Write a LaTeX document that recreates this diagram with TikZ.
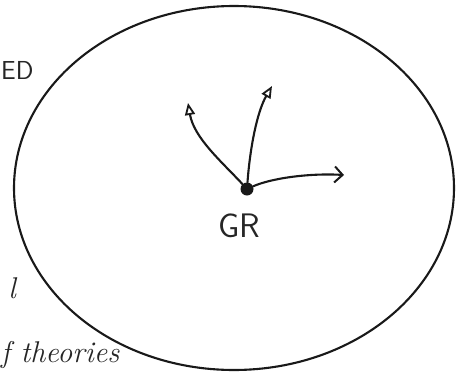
\documentclass[tikz,border=0pt]{standalone}
\usetikzlibrary{arrows.meta,shapes.geometric}
\begin{document}
\begin{tikzpicture}[x=1pt,y=-1pt,
  ink/.style={draw=black!90, line width=2.1pt, line cap=round},
  hand/.style={text=black!85, font=\sffamily\fontsize{34}{34}\selectfont, inner sep=0pt},
  scrawl/.style={text=black!85, font=\itshape\fontsize{30}{30}\selectfont, inner sep=0pt},
  tri/.style={-{Triangle[open,length=12pt,width=10pt,line width=1.8pt]}},
  barb/.style={-{Straight Barb[length=8pt,width=16pt,line width=2pt]}}]
\useasboundingbox (0,0) rectangle (456,378);
\clip (0,0) rectangle (456,378);
\fill[white] (0,0) rectangle (456,378);
% the large region
\node[ink, ellipse, minimum width=440pt, minimum height=364pt, inner sep=0pt] (space) at (234,188) {};
% GR point
\node[circle, fill=black!90, inner sep=0pt, minimum size=13pt] (gr) at (247,189) {};
\node[hand] (grlabel) at (239,226) {GR};
% arrow ends
\coordinate (t1) at (188,103);
\coordinate (t2) at (272,86);
\coordinate (t3) at (344,175);
\draw[ink, tri] (gr) .. controls (222,162) and (194,138) .. (t1);
\draw[ink, tri] (gr) .. controls (250,148) and (257,112) .. (t2);
\draw[ink, barb] (gr) .. controls (272,178) and (310,173) .. (t3);
% text fragments at the left edge
\node[hand, anchor=west, font=\sffamily\fontsize{26}{26}\selectfont] (ed) at (1,70) {ED};
\node[scrawl, anchor=base east] (ell) at (16,298) {l};
\node[scrawl, anchor=base west] (theories) at (1,362) {f theories};
\end{tikzpicture}
\end{document}
